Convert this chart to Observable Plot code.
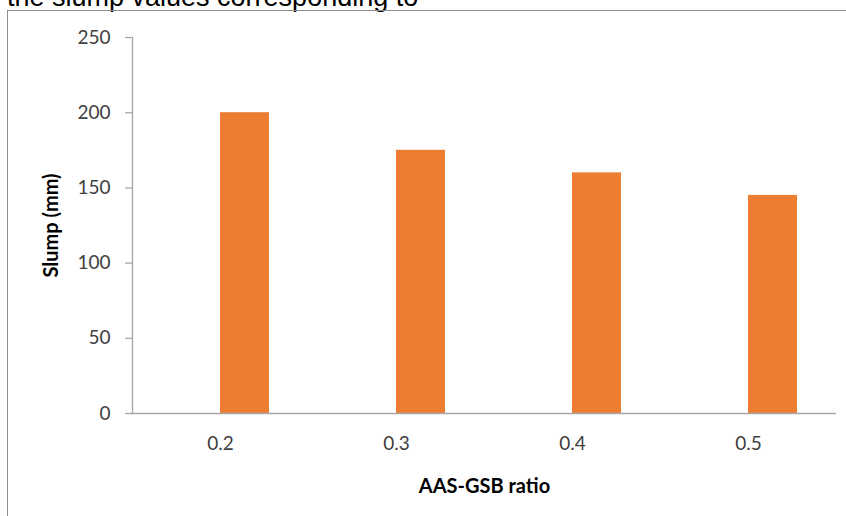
<!DOCTYPE html>
<html><head><meta charset="utf-8">
<script src="https://cdn.jsdelivr.net/npm/d3@7"></script>
<script src="https://cdn.jsdelivr.net/npm/@observablehq/plot@0.6"></script>
<style>
html,body{margin:0;padding:0;background:#fff;width:846px;height:516px;overflow:hidden;position:relative;}
#cap{position:absolute;left:7px;top:-16px;font-family:"Liberation Sans",Arial,sans-serif;font-size:27px;color:#000;white-space:nowrap;line-height:27px;}
#frame{position:absolute;left:7px;top:10px;width:900px;height:600px;border-left:1px solid #8c8c8c;border-top:1px solid #8c8c8c;}
#chart{position:absolute;left:0;top:0;}
#chart g[aria-label="y-axis label"] text, #chart g[aria-label="fx-axis label"] text{font-weight:bold;fill:#000;font-size:20px;}
</style></head>
<body>
<div id="cap">the slump values corresponding to</div>
<div id="frame"></div>
<div id="chart"></div>
<script>
const ratios = ["0.2", "0.3", "0.4", "0.5"];
const slump = [200, 175, 160, 145];
const seriesSlots = ["", "Slump"];
const yTicks = [0, 50, 100, 150, 200, 250];

const data = ratios.map((r, i) => ({ratio: r, series: "Slump", slump: slump[i]}));

const chart = Plot.plot({
  width: 846,
  height: 516,
  marginLeft: 130,
  marginRight: 9,
  marginTop: 37,
  marginBottom: 103,
  style: {fontFamily: "Lato, 'Open Sans', sans-serif", fontSize: "19px", color: "#404040", background: "transparent"},
  facet: {data: data, x: "ratio"},
  fx: {domain: ratios, padding: 0, label: null},
  x: {domain: seriesSlots, paddingInner: 0, paddingOuter: 0.7675, axis: null},
  y: {domain: [0, 250], ticks: yTicks, label: null},
  marks: [
    Plot.barY(data, {x: "series", y: "slump", fill: "#ED7D31"}),
    Plot.ruleY([0], {stroke: "#a6a6a6", strokeWidth: 1.3}),
    Plot.frame({anchor: "left", facetAnchor: "left", stroke: "#a6a6a6", strokeWidth: 1.3}),
    Plot.axisY({ticks: yTicks, tickSize: 7, tickPadding: 15, stroke: "#a6a6a6", strokeWidth: 1.3, fill: "#404040",
      label: "Slump (mm)", labelAnchor: "center", labelArrow: "none", labelOffset: 89}),
    Plot.axisFx({anchor: "bottom", tickSize: 0, tickPadding: 23, fill: "#404040",
      label: "AAS-GSB ratio", labelAnchor: "center", labelArrow: "none", labelOffset: 79})
  ]
});
document.getElementById("chart").appendChild(chart);
</script>
</body></html>
